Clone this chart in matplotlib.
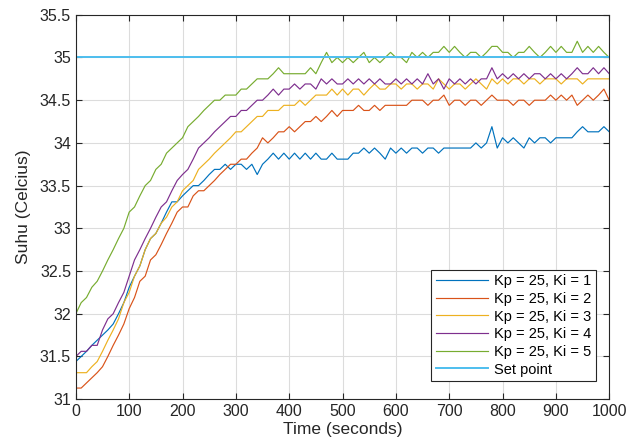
import matplotlib
matplotlib.use('Agg')
import matplotlib.pyplot as plt
import numpy as np

plt.rcParams['font.family'] = ['Liberation Sans', 'DejaVu Sans']

# time axis, one reading every 10 s
time = np.arange(0, 1001, 10)

ki1 = [31.44, 31.50, 31.56, 31.63, 31.69, 31.75, 31.81, 31.88, 32.00, 32.13,
       32.31, 32.44, 32.56, 32.75, 32.88, 32.94, 33.06, 33.19, 33.31, 33.31,
       33.38, 33.44, 33.50, 33.50, 33.56, 33.63, 33.69, 33.69, 33.75, 33.69,
       33.75, 33.75, 33.69, 33.75, 33.63, 33.75, 33.81, 33.88, 33.81, 33.88,
       33.81, 33.88, 33.81, 33.88, 33.81, 33.88, 33.81, 33.81, 33.88, 33.81,
       33.81, 33.81, 33.88, 33.88, 33.94, 33.88, 33.94, 33.88, 33.81, 33.94,
       33.88, 33.94, 33.88, 33.94, 33.94, 33.88, 33.94, 33.94, 33.88, 33.94,
       33.94, 33.94, 33.94, 33.94, 33.94, 34.00, 33.94, 34.00, 34.19, 33.94,
       34.06, 34.00, 34.06, 34.00, 33.94, 34.06, 34.00, 34.06, 34.06, 34.00,
       34.06, 34.06, 34.06, 34.06, 34.13, 34.19, 34.13, 34.13, 34.13, 34.19,
       34.13]

ki2 = [31.13, 31.13, 31.19, 31.25, 31.31, 31.38, 31.50, 31.63, 31.75, 31.88,
       32.06, 32.19, 32.38, 32.44, 32.63, 32.69, 32.81, 32.94, 33.06, 33.19,
       33.25, 33.25, 33.38, 33.44, 33.44, 33.50, 33.56, 33.63, 33.69, 33.75,
       33.75, 33.81, 33.81, 33.88, 33.94, 34.06, 34.00, 34.06, 34.13, 34.13,
       34.19, 34.13, 34.19, 34.25, 34.25, 34.31, 34.25, 34.31, 34.38, 34.31,
       34.38, 34.38, 34.38, 34.44, 34.38, 34.38, 34.44, 34.38, 34.44, 34.44,
       34.44, 34.44, 34.44, 34.50, 34.50, 34.50, 34.44, 34.50, 34.50, 34.56,
       34.44, 34.50, 34.50, 34.44, 34.50, 34.50, 34.44, 34.50, 34.56, 34.50,
       34.50, 34.50, 34.44, 34.50, 34.50, 34.44, 34.50, 34.50, 34.50, 34.56,
       34.50, 34.56, 34.50, 34.56, 34.44, 34.50, 34.56, 34.50, 34.56, 34.63,
       34.50]

ki3 = [31.31, 31.31, 31.31, 31.38, 31.44, 31.56, 31.69, 31.81, 31.94, 32.13,
       32.25, 32.44, 32.56, 32.75, 32.88, 32.94, 33.06, 33.13, 33.25, 33.31,
       33.44, 33.50, 33.56, 33.69, 33.75, 33.81, 33.88, 33.94, 34.00, 34.06,
       34.13, 34.13, 34.19, 34.25, 34.31, 34.31, 34.38, 34.38, 34.38, 34.44,
       34.44, 34.44, 34.50, 34.44, 34.50, 34.56, 34.56, 34.56, 34.63, 34.56,
       34.63, 34.56, 34.63, 34.63, 34.56, 34.63, 34.69, 34.63, 34.63, 34.69,
       34.69, 34.63, 34.69, 34.69, 34.63, 34.69, 34.69, 34.63, 34.75, 34.69,
       34.63, 34.69, 34.69, 34.63, 34.69, 34.75, 34.69, 34.63, 34.75, 34.69,
       34.75, 34.69, 34.75, 34.75, 34.69, 34.75, 34.75, 34.69, 34.75, 34.75,
       34.75, 34.69, 34.75, 34.75, 34.75, 34.69, 34.75, 34.75, 34.75, 34.75,
       34.75]

ki4 = [31.50, 31.56, 31.56, 31.63, 31.63, 31.81, 31.94, 32.00, 32.13, 32.25,
       32.44, 32.63, 32.75, 32.88, 33.00, 33.13, 33.25, 33.31, 33.44, 33.56,
       33.63, 33.69, 33.81, 33.94, 34.00, 34.06, 34.13, 34.19, 34.25, 34.31,
       34.31, 34.38, 34.38, 34.44, 34.50, 34.50, 34.56, 34.63, 34.56, 34.63,
       34.63, 34.69, 34.63, 34.69, 34.69, 34.63, 34.75, 34.69, 34.75, 34.69,
       34.69, 34.75, 34.69, 34.75, 34.69, 34.75, 34.69, 34.75, 34.69, 34.69,
       34.75, 34.69, 34.75, 34.69, 34.75, 34.69, 34.81, 34.69, 34.75, 34.63,
       34.75, 34.69, 34.75, 34.69, 34.75, 34.69, 34.75, 34.75, 34.88, 34.75,
       34.81, 34.75, 34.81, 34.75, 34.81, 34.75, 34.81, 34.81, 34.75, 34.81,
       34.75, 34.81, 34.75, 34.81, 34.88, 34.81, 34.81, 34.88, 34.81, 34.88,
       34.81]

ki5 = [32.00, 32.13, 32.19, 32.31, 32.38, 32.50, 32.63, 32.75, 32.88, 33.00,
       33.19, 33.25, 33.38, 33.50, 33.56, 33.69, 33.75, 33.88, 33.94, 34.00,
       34.06, 34.19, 34.25, 34.31, 34.38, 34.44, 34.50, 34.50, 34.56, 34.56,
       34.56, 34.63, 34.63, 34.69, 34.75, 34.75, 34.75, 34.81, 34.88, 34.81,
       34.81, 34.81, 34.81, 34.81, 34.88, 34.81, 34.94, 35.06, 34.94, 35.00,
       34.94, 35.00, 34.94, 35.00, 35.06, 34.94, 35.00, 34.94, 35.00, 35.06,
       35.00, 35.00, 34.94, 35.06, 35.00, 35.06, 35.00, 35.06, 35.06, 35.13,
       35.06, 35.13, 35.06, 35.00, 35.06, 35.06, 35.00, 35.06, 35.13, 35.13,
       35.06, 35.06, 35.00, 35.06, 35.06, 35.13, 35.06, 35.00, 35.06, 35.13,
       35.06, 35.13, 35.06, 35.06, 35.19, 35.06, 35.13, 35.06, 35.13, 35.06,
       35.00]

set_point = 35.0

labels = ['Kp = 25, Ki = 1', 'Kp = 25, Ki = 2', 'Kp = 25, Ki = 3',
          'Kp = 25, Ki = 4', 'Kp = 25, Ki = 5', 'Set point']
colors = ['#0072BD', '#D95319', '#EDB120', '#7E2F8E', '#77AC30', '#4DBEEE']

fig = plt.figure(figsize=(6.32, 4.48), dpi=100)
ax = fig.add_axes([0.120, 0.109, 0.844, 0.858])

for y, c, lab in zip([ki1, ki2, ki3, ki4, ki5], colors, labels):
    ax.plot(time, y, color=c, lw=0.85, label=lab)
ax.plot([time[0], time[-1]], [set_point, set_point], color=colors[5], lw=1.4,
        label=labels[5])

ax.set_xlim(0, 1000)
ax.set_ylim(31, 35.5)
ax.set_xticks(np.arange(0, 1001, 100))
ax.set_yticks(np.arange(31, 35.51, 0.5))
ax.set_yticklabels(['31', '31.5', '32', '32.5', '33', '33.5', '34', '34.5', '35', '35.5'])
ax.grid(True, color='#dcdcdc', lw=0.8)
ax.set_axisbelow(True)
ax.tick_params(direction='in', top=True, right=True, labelsize=11.5,
               colors='#262626', length=4)
for s in ax.spines.values():
    s.set_color('#262626')
    s.set_linewidth(0.8)

ax.set_xlabel('Time (seconds)', fontsize=12.5, color='#262626', labelpad=2)
ax.set_ylabel('Suhu (Celcius)', fontsize=12.5, color='#262626', labelpad=6)

leg = ax.legend(loc='lower right', bbox_to_anchor=(0.98, 0.04), fontsize=10.5,
                fancybox=False, framealpha=1, edgecolor='#262626',
                handlelength=3.6, handletextpad=0.4, borderpad=0.3,
                labelspacing=0.25, borderaxespad=0.2)
leg.get_frame().set_linewidth(0.8)

fig.savefig('out.png', dpi=100)
